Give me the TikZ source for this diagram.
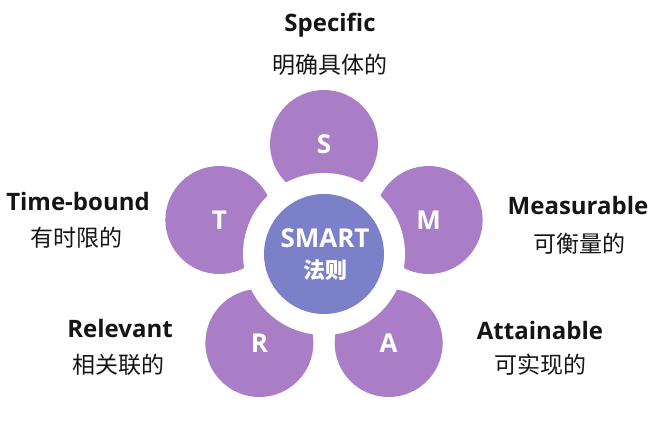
\documentclass[tikz,border=0pt]{standalone}
\usepackage{fontspec}
\setmainfont{Open Sans}
\newfontfamily\cjk{Noto Sans CJK SC}
\usetikzlibrary{positioning, calc}
\definecolor{petalpurple}{HTML}{A97EC6}
\definecolor{hubblue}{HTML}{7C80C9}
\definecolor{labelblack}{HTML}{151515}

\begin{document}
\begin{tikzpicture}[x=1pt, y=1pt,
                petal/.style={circle, fill=petalpurple, minimum size=108pt, inner sep=0pt, text=white, font=\fontsize{26}{28}\selectfont\bfseries},
                ring/.style={circle, fill=white, minimum size=162pt, inner sep=0pt},
                hub/.style={circle, fill=hubblue, minimum size=120pt, inner sep=0pt, text=white, align=center},
                title/.style={text=labelblack, font=\fontsize{24}{26}\selectfont\bfseries, inner sep=0pt},
                meaning/.style={text=labelblack, font=\cjk\fontsize{23}{25}\selectfont, inner sep=0pt}
            ]
            \useasboundingbox (0,0) rectangle (660,-432);

            % Mitte
            \coordinate (c) at (324,-254);

            % Blaetter
            \node[petal] (S) at ($(c)+(90:110)$) {S};
            \node[petal] (M) at ($(c)+(18:110)$) {M};
            \node[petal] (A) at ($(c)+(-54:110)$) {A};
            \node[petal] (R) at ($(c)+(234:110)$) {R};
            \node[petal] (T) at ($(c)+(162:110)$) {T};

            % Kern
            \node[ring] (ring) at (c) {};
            \node[hub] (hub) at (c) {};
            \node[text=white, font=\fontsize{26}{28}\selectfont\bfseries] (smart) at (325,-238) {SMART};
            \node[text=white, font=\cjk\fontsize{22}{24}\selectfont\bfseries] (rule) at (325,-270) {法则};

            % Beschriftungen
            \node[title] (specific) at (330,-25) {Specific};
            \node[meaning] (specificcn) at (330,-65) {明确具体的};
            \node[title] (measurable) at (578,-205) {Measurable};
            \node[meaning] (measurablecn) at (579,-244) {可衡量的};
            \node[title] (attainable) at (540,-330) {Attainable};
            \node[meaning] (attainablecn) at (540,-365) {可实现的};
            \node[title] (relevant) at (120,-328) {Relevant};
            \node[meaning] (relevantcn) at (118,-365) {相关联的};
            \node[title] (timebound) at (78,-201) {Time-bound};
            \node[meaning] (timeboundcn) at (76,-238) {有时限的};

        \end{tikzpicture}
\end{document}
